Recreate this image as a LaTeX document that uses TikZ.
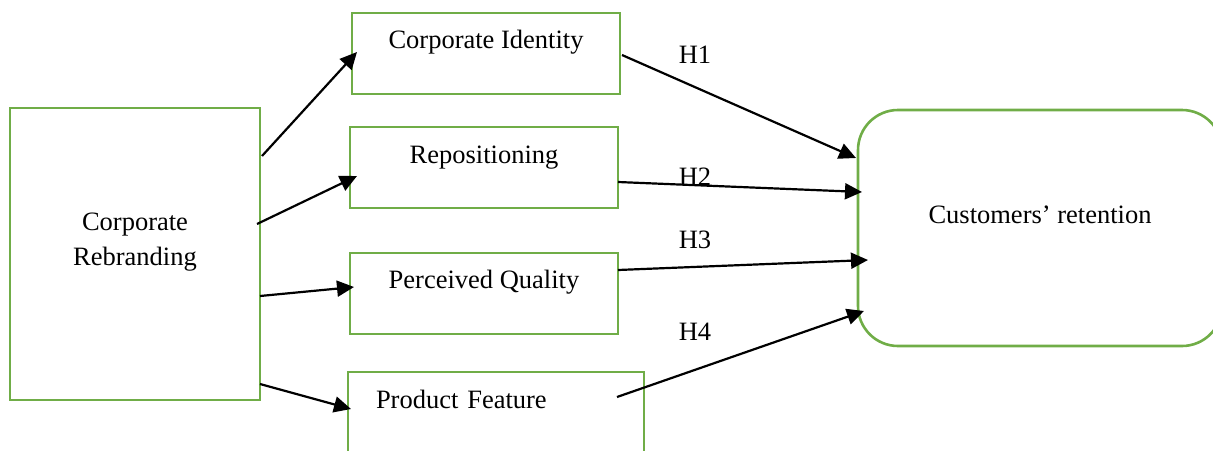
\documentclass[tikz,border=0pt]{standalone}
\usepackage{fontspec}
\setmainfont{Liberation Serif}
\usetikzlibrary{arrows.meta,calc}
\definecolor{boxgreen}{HTML}{70AD47}
\tikzset{
  box/.style={draw=boxgreen, line width=1.3pt, inner sep=0pt, outer sep=0pt,
    anchor=north west},
  link/.style={-{Triangle[length=8.5pt,width=8pt]}, line width=1.1pt},
  hyp/.style={inner sep=0pt}
}
\begin{document}
\begin{tikzpicture}[x=0.5pt, y=-0.5pt, font=\fontsize{13.25}{17.5}\selectfont]
    \path[use as bounding box] (0,0) rectangle (1213,450);
    \clip (0,0) rectangle (1213,450);
    % the construct boxes
    \node[box, minimum width=125pt, text width=125pt, align=center,
      text height=61pt, text depth=85pt] (rebrand) at (10,108) {Corporate\\Rebranding};
    \node[box, minimum width=134pt, text height=17.5pt, text depth=23pt] (ident) at (352,13) {Corporate Identity};
    \node[box, minimum width=134pt, text height=18pt, text depth=22.5pt] (repos) at (350,127) {Repositioning};
    \node[box, minimum width=134pt, text height=17.5pt, text depth=23pt] (qual) at (350,253) {Perceived Quality};
    \node[box, text width=134pt, inner xsep=7pt, align=left, text height=18pt, text depth=31pt] (feat) at (348,372) {\hspace*{7pt}Product Feature};
    \node[box, rounded corners=20pt, minimum width=182pt, text height=56.5pt, text depth=61.5pt] (retain) at (858,110) {Customers’ retention};
    % hypothesis labels
    \node[hyp] (h1) at (695,55) {H1};
    \node[hyp] (h2) at (695,177) {H2};
    \node[hyp] (h3) at (695,240) {H3};
    \node[hyp] (h4) at (695,332) {H4};
    % rebranding to its dimensions
    \draw[link] ($(rebrand.north east)+(2,48)$) -- ($(ident.south west)+(5,-42)$);
    \draw[link] ($(rebrand.north east)+(-3,116)$) -- ($(repos.south west)+(7,-32)$);
    \draw[link] ($(rebrand.north east)+(0,188)$) -- ($(qual.south west)+(4,-47)$);
    \draw[link] ($(rebrand.south east)+(0,-16)$) -- ($(feat.north west)+(3,37)$);
    % dimensions to retention
    \draw[link] ($(ident.north east)+(2,42)$) -- ($(retain.north west)+(-2,48)$);
    \draw[link] ($(repos.north east)+(0,55)$) -- ($(retain.north west)+(4,82)$);
    \draw[link] ($(qual.north east)+(0,17)$) -- ($(retain.north west)+(10,150)$);
    \draw[link] ($(feat.north east)+(-27,25)$) -- ($(retain.south west)+(6,-35)$);
\end{tikzpicture}
\end{document}
